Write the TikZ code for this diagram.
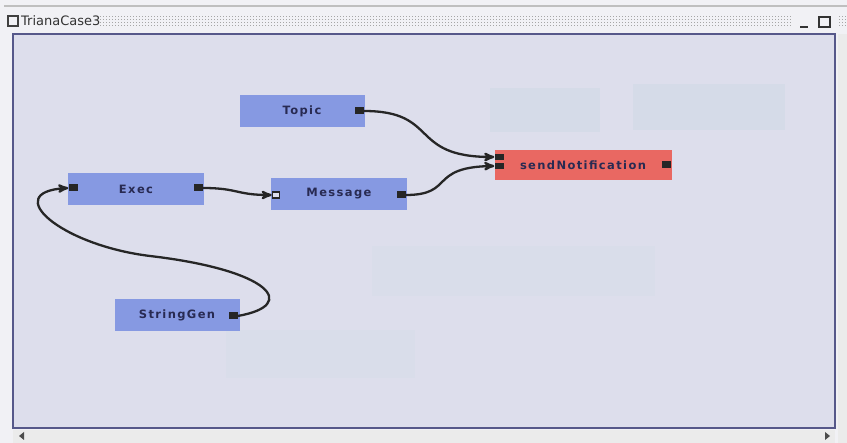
\documentclass[tikz,border=0pt]{standalone}
\usepackage{fontspec}
\setmainfont{DejaVu Sans}
\newfontfamily\unitfont[LetterSpace=12]{DejaVu Sans Bold}
\usetikzlibrary{positioning, calc}
\usetikzlibrary{arrows}

\definecolor{canvasbg}{RGB}{221,222,236}
\definecolor{framebg}{RGB}{241,241,245}
\definecolor{frameline}{RGB}{86,88,138}
\definecolor{unitblue}{RGB}{134,153,226}
\definecolor{unitred}{RGB}{233,104,98}
\definecolor{unittext}{RGB}{40,42,82}
\definecolor{ghost}{RGB}{211,219,231}

\begin{document}
\begin{tikzpicture}[x=1pt, y=-1pt,
    unit/.style={fill=unitblue, minimum width=125pt, minimum height=32pt, inner sep=0pt,
                 font=\unitfont\fontsize{11.5}{13}\selectfont, text=unittext},
    port/.style={fill=black!85, minimum width=9pt, minimum height=7pt, inner sep=0pt},
    wire/.style={line width=2.3pt, draw=black!85, line cap=round}]

    % window frame
    \useasboundingbox (0,0) rectangle (847,443);
    \fill[framebg] (0,0) rectangle (847,443);
    \draw[black!25, line width=1.5pt] (4,6) -- (847,6);

    % title bar
    \draw[black!75, line width=1.4pt] (8,16) rectangle (18,26);
    \node[anchor=west, inner sep=0pt, font=\fontsize{13}{15}\selectfont, text=black!80] (title) at (21,21) {TrianaCase3};
    \foreach \yy in {16,19,22,25} {
        \draw[black!35, line width=0.8pt, dash pattern=on 1pt off 2pt] (100,\yy) -- (792,\yy);
        \draw[black!35, line width=0.8pt, dash pattern=on 1pt off 2pt] (839,\yy) -- (847,\yy);
    }
    \draw[black!80, line width=2pt] (800,27) -- (808,27);
    \draw[black!80, line width=1.6pt] (819,17) rectangle (830,27);

    % canvas and scroll bars
    \draw[frameline, line width=1.6pt, fill=canvasbg] (13,34) rectangle (835,428);
    \fill[black!8] (13,430) rectangle (835,443);
    \fill[black!8] (838,34) rectangle (847,443);
    \fill[black!70] (19,436) -- (24,432) -- (24,440) -- cycle;
    \fill[black!70] (830,436) -- (825,432) -- (825,440) -- cycle;

    % faint marks on the canvas
    \fill[ghost, opacity=0.8] (490,88) rectangle (600,132);
    \fill[ghost, opacity=0.8] (633,84) rectangle (785,130);
    \fill[ghost, opacity=0.3] (372,246) rectangle (655,296);
    \fill[ghost, opacity=0.3] (226,330) rectangle (415,378);

    % units
    \node[unit] (topic) at (302,111) {Topic};
    \node[unit, fill=unitred, minimum width=177pt, minimum height=30pt] (send) at (583,165) {sendNotification};
    \node[unit, minimum width=136pt] (exec) at (136,189) {Exec};
    \node[unit, minimum width=136pt] (msg) at (339,194) {Message};
    \node[unit] (strgen) at (177,315) {StringGen};

    % ports
    \node[port] (topic-o) at (359,111) {};
    \node[port, minimum height=6pt] (send-i1) at (499,157) {};
    \node[port, minimum height=6pt] (send-i2) at (499,166) {};
    \node[port] (send-o) at (666,165) {};
    \node[port] (exec-i) at (73,188) {};
    \node[port] (exec-o) at (198,188) {};
    \node[port, fill=canvasbg, draw=black!85, line width=1.5pt, minimum width=7pt, minimum height=6pt] (msg-i) at (276,195) {};
    \node[port] (msg-o) at (401,195) {};
    \node[port] (strgen-o) at (233,316) {};

    % connections
    \draw[wire, -stealth'] (topic-o.east) .. controls (440,111) and (408,157) .. (send-i1.west);
    \draw[wire, -stealth'] (msg-o.east) .. controls (455,195) and (428,167) .. (send-i2.west);
    \draw[wire, -stealth'] (exec-o.east) .. controls (238,188) and (236,195) .. (msg-i.west);
    \draw[wire, -stealth'] (strgen-o.east) .. controls (300,305) and (270,270) .. (150,256)
        .. controls (60,245) and (0,192) .. (exec-i.west);

\end{tikzpicture}
\end{document}
